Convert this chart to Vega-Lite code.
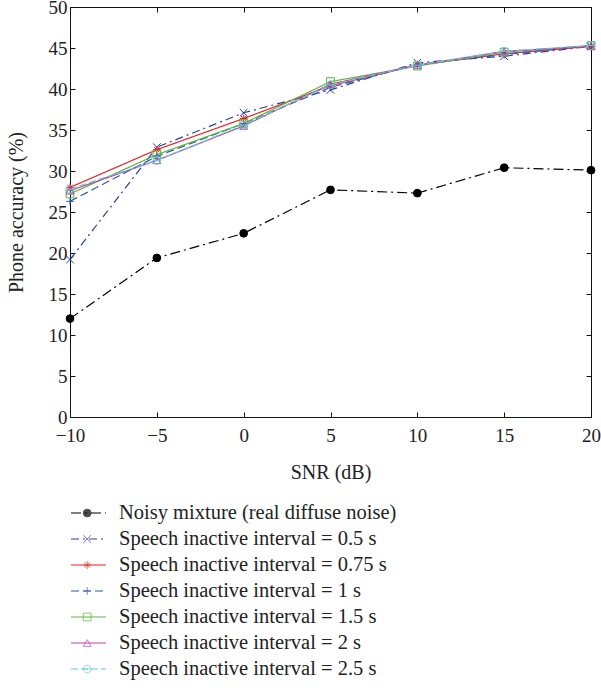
{
  "$schema": "https://vega.github.io/schema/vega-lite/v6.json",
  "padding": {"left": 6, "top": -2, "right": 5, "bottom": 0},
  "config": {"font": "Liberation Serif", "view": {"stroke": null},
    "axis": {"labelFont": "Liberation Serif", "titleFont": "Liberation Serif", "labelColor": "#222", "titleColor": "#222", "domainColor": "#111", "tickColor": "#111", "labelFontSize": 19, "titleFontSize": 20, "titleFontWeight": "normal", "grid": false}},
  "datasets": {
    "acc": [
      {"snr": -10, "acc": 12.0, "series": "Noisy mixture (real diffuse noise)"},
      {"snr": -5, "acc": 19.4, "series": "Noisy mixture (real diffuse noise)"},
      {"snr": 0, "acc": 22.4, "series": "Noisy mixture (real diffuse noise)"},
      {"snr": 5, "acc": 27.7, "series": "Noisy mixture (real diffuse noise)"},
      {"snr": 10, "acc": 27.3, "series": "Noisy mixture (real diffuse noise)"},
      {"snr": 15, "acc": 30.4, "series": "Noisy mixture (real diffuse noise)"},
      {"snr": 20, "acc": 30.1, "series": "Noisy mixture (real diffuse noise)"},
      {"snr": -10, "acc": 19.2, "series": "Speech inactive interval = 0.5 s"},
      {"snr": -5, "acc": 32.9, "series": "Speech inactive interval = 0.5 s"},
      {"snr": 0, "acc": 37.1, "series": "Speech inactive interval = 0.5 s"},
      {"snr": 5, "acc": 39.9, "series": "Speech inactive interval = 0.5 s"},
      {"snr": 10, "acc": 43.2, "series": "Speech inactive interval = 0.5 s"},
      {"snr": 15, "acc": 44.0, "series": "Speech inactive interval = 0.5 s"},
      {"snr": 20, "acc": 45.2, "series": "Speech inactive interval = 0.5 s"},
      {"snr": -10, "acc": 28.0, "series": "Speech inactive interval = 0.75 s"},
      {"snr": -5, "acc": 32.6, "series": "Speech inactive interval = 0.75 s"},
      {"snr": 0, "acc": 36.4, "series": "Speech inactive interval = 0.75 s"},
      {"snr": 5, "acc": 40.4, "series": "Speech inactive interval = 0.75 s"},
      {"snr": 10, "acc": 42.9, "series": "Speech inactive interval = 0.75 s"},
      {"snr": 15, "acc": 44.3, "series": "Speech inactive interval = 0.75 s"},
      {"snr": 20, "acc": 45.2, "series": "Speech inactive interval = 0.75 s"},
      {"snr": -10, "acc": 26.3, "series": "Speech inactive interval = 1 s"},
      {"snr": -5, "acc": 31.8, "series": "Speech inactive interval = 1 s"},
      {"snr": 0, "acc": 35.8, "series": "Speech inactive interval = 1 s"},
      {"snr": 5, "acc": 40.2, "series": "Speech inactive interval = 1 s"},
      {"snr": 10, "acc": 43.0, "series": "Speech inactive interval = 1 s"},
      {"snr": 15, "acc": 44.2, "series": "Speech inactive interval = 1 s"},
      {"snr": 20, "acc": 45.3, "series": "Speech inactive interval = 1 s"},
      {"snr": -10, "acc": 27.2, "series": "Speech inactive interval = 1.5 s"},
      {"snr": -5, "acc": 32.0, "series": "Speech inactive interval = 1.5 s"},
      {"snr": 0, "acc": 35.8, "series": "Speech inactive interval = 1.5 s"},
      {"snr": 5, "acc": 40.9, "series": "Speech inactive interval = 1.5 s"},
      {"snr": 10, "acc": 42.8, "series": "Speech inactive interval = 1.5 s"},
      {"snr": 15, "acc": 44.5, "series": "Speech inactive interval = 1.5 s"},
      {"snr": 20, "acc": 45.3, "series": "Speech inactive interval = 1.5 s"},
      {"snr": -10, "acc": 27.6, "series": "Speech inactive interval = 2 s"},
      {"snr": -5, "acc": 31.3, "series": "Speech inactive interval = 2 s"},
      {"snr": 0, "acc": 35.5, "series": "Speech inactive interval = 2 s"},
      {"snr": 5, "acc": 40.6, "series": "Speech inactive interval = 2 s"},
      {"snr": 10, "acc": 42.9, "series": "Speech inactive interval = 2 s"},
      {"snr": 15, "acc": 44.6, "series": "Speech inactive interval = 2 s"},
      {"snr": 20, "acc": 45.2, "series": "Speech inactive interval = 2 s"},
      {"snr": -10, "acc": 27.8, "series": "Speech inactive interval = 2.5 s"},
      {"snr": -5, "acc": 31.3, "series": "Speech inactive interval = 2.5 s"},
      {"snr": 0, "acc": 35.6, "series": "Speech inactive interval = 2.5 s"},
      {"snr": 5, "acc": 40.5, "series": "Speech inactive interval = 2.5 s"},
      {"snr": 10, "acc": 42.9, "series": "Speech inactive interval = 2.5 s"},
      {"snr": 15, "acc": 44.6, "series": "Speech inactive interval = 2.5 s"},
      {"snr": 20, "acc": 45.3, "series": "Speech inactive interval = 2.5 s"}
    ],
    "legend": [
      {"series": "Noisy mixture (real diffuse noise)"},
      {"series": "Speech inactive interval = 0.5 s"},
      {"series": "Speech inactive interval = 0.75 s"},
      {"series": "Speech inactive interval = 1 s"},
      {"series": "Speech inactive interval = 1.5 s"},
      {"series": "Speech inactive interval = 2 s"},
      {"series": "Speech inactive interval = 2.5 s"}
    ]
  },
  "spacing": 18,
  "vconcat": [
    {
      "width": 521,
      "height": 410,
      "data": {"name": "acc"},
      "layer": [
        {
          "mark": {"type": "line", "strokeWidth": 1.2},
          "encoding": {
            "x": {"field": "snr", "type": "quantitative", "scale": {"domain": [-10, 20]}, "axis": {"title": "SNR (dB)", "values": [-10, -5, 0, 5, 10, 15, 20], "tickSize": -5, "labelPadding": 14, "titlePadding": 17, "labelFlush": false}},
            "y": {"field": "acc", "type": "quantitative", "scale": {"domain": [0, 50]}, "axis": {"title": "Phone accuracy (%)", "values": [0, 5, 10, 15, 20, 25, 30, 35, 40, 45, 50], "tickSize": -5, "labelPadding": 8, "titlePadding": 22, "labelFlush": false}},
            "stroke": {"field": "series", "type": "nominal", "legend": null, "scale": {"domain": ["Noisy mixture (real diffuse noise)", "Speech inactive interval = 0.5 s", "Speech inactive interval = 0.75 s", "Speech inactive interval = 1 s", "Speech inactive interval = 1.5 s", "Speech inactive interval = 2 s", "Speech inactive interval = 2.5 s"], "range": ["#000000", "#2b3c9e", "#ee2222", "#3355bb", "#5cb83a", "#bb44aa", "#66c6e0"]}},
            "strokeDash": {"field": "series", "type": "nominal", "legend": null, "scale": {"domain": ["Noisy mixture (real diffuse noise)", "Speech inactive interval = 0.5 s", "Speech inactive interval = 0.75 s", "Speech inactive interval = 1 s", "Speech inactive interval = 1.5 s", "Speech inactive interval = 2 s", "Speech inactive interval = 2.5 s"], "range": [[10, 4, 2, 4], [8, 4, 2, 4], [1, 0], [8, 4], [1, 0], [1, 0], [7, 3]]}}
          }
        },
        {
          "mark": {"type": "point", "filled": true, "size": 60, "strokeWidth": 1, "opacity": 1},
          "encoding": {
            "x": {"field": "snr", "type": "quantitative", "axis": null},
            "y": {"field": "acc", "type": "quantitative", "axis": null},
            "stroke": {"field": "series", "type": "nominal", "legend": null},
            "fill": {"field": "series", "type": "nominal", "legend": null, "scale": {"domain": ["Noisy mixture (real diffuse noise)", "Speech inactive interval = 0.5 s", "Speech inactive interval = 0.75 s", "Speech inactive interval = 1 s", "Speech inactive interval = 1.5 s", "Speech inactive interval = 2 s", "Speech inactive interval = 2.5 s"], "range": ["#000000", "transparent", "transparent", "transparent", "transparent", "transparent", "transparent"]}},
            "shape": {"field": "series", "type": "nominal", "legend": null, "scale": {"domain": ["Noisy mixture (real diffuse noise)", "Speech inactive interval = 0.5 s", "Speech inactive interval = 0.75 s", "Speech inactive interval = 1 s", "Speech inactive interval = 1.5 s", "Speech inactive interval = 2 s", "Speech inactive interval = 2.5 s"], "range": ["circle", "M-1,-1L1,1M-1,1L1,-1", "M0,-1V1M-1,0H1M-0.7,-0.7L0.7,0.7M-0.7,0.7L0.7,-0.7", "M0,-1V1M-1,0H1", "square", "triangle-up", "M-1,0A1,1,0,1,1,1,0A1,1,0,1,1,-1,0ZM-1,0H1"]}}
          }
        },
        {
          "mark": {"type": "point", "opacity": 0},
          "encoding": {
            "x": {"field": "snr", "type": "quantitative", "axis": {"orient": "top", "title": null, "labels": false, "values": [-10, -5, 0, 5, 10, 15, 20], "tickSize": -5}},
            "y": {"field": "acc", "type": "quantitative", "axis": {"orient": "right", "title": null, "labels": false, "values": [0, 5, 10, 15, 20, 25, 30, 35, 40, 45, 50], "tickSize": -5}}
          }
        }
      ],
      "resolve": {"axis": {"x": "independent", "y": "independent"}}
    },
    {
      "width": 521,
      "height": 182,
      "data": {"name": "legend"},
      "encoding": {
        "y": {"field": "series", "type": "nominal", "sort": null, "axis": null, "scale": {"type": "point", "padding": 0.5}}
      },
      "layer": [
        {
          "mark": {"type": "rule", "strokeWidth": 1.2},
          "encoding": {
            "x": {"datum": 0.2, "type": "quantitative", "scale": {"domain": [0, 100]}, "axis": null},
            "x2": {"datum": 6.9},
            "stroke": {"field": "series", "type": "nominal", "legend": null, "scale": {"domain": ["Noisy mixture (real diffuse noise)", "Speech inactive interval = 0.5 s", "Speech inactive interval = 0.75 s", "Speech inactive interval = 1 s", "Speech inactive interval = 1.5 s", "Speech inactive interval = 2 s", "Speech inactive interval = 2.5 s"], "range": ["#000000", "#2b3c9e", "#ee2222", "#3355bb", "#5cb83a", "#bb44aa", "#66c6e0"]}},
            "strokeDash": {"field": "series", "type": "nominal", "legend": null, "scale": {"domain": ["Noisy mixture (real diffuse noise)", "Speech inactive interval = 0.5 s", "Speech inactive interval = 0.75 s", "Speech inactive interval = 1 s", "Speech inactive interval = 1.5 s", "Speech inactive interval = 2 s", "Speech inactive interval = 2.5 s"], "range": [[1, 5, 17, 6, 8, 50], [1, 5, 17, 6, 8, 50], [1, 0], [1, 5, 17, 6, 8, 50], [1, 0], [1, 0], [8, 4, 11, 6, 8, 50]]}}
          }
        },
        {
          "mark": {"type": "point", "filled": true, "size": 60, "strokeWidth": 1},
          "encoding": {
            "x": {"datum": 3.3, "type": "quantitative"},
            "stroke": {"field": "series", "type": "nominal", "legend": null},
            "fill": {"field": "series", "type": "nominal", "legend": null, "scale": {"domain": ["Noisy mixture (real diffuse noise)", "Speech inactive interval = 0.5 s", "Speech inactive interval = 0.75 s", "Speech inactive interval = 1 s", "Speech inactive interval = 1.5 s", "Speech inactive interval = 2 s", "Speech inactive interval = 2.5 s"], "range": ["#000000", "transparent", "transparent", "transparent", "transparent", "transparent", "transparent"]}},
            "shape": {"field": "series", "type": "nominal", "legend": null, "scale": {"domain": ["Noisy mixture (real diffuse noise)", "Speech inactive interval = 0.5 s", "Speech inactive interval = 0.75 s", "Speech inactive interval = 1 s", "Speech inactive interval = 1.5 s", "Speech inactive interval = 2 s", "Speech inactive interval = 2.5 s"], "range": ["circle", "M-1,-1L1,1M-1,1L1,-1", "M0,-1V1M-1,0H1M-0.7,-0.7L0.7,0.7M-0.7,0.7L0.7,-0.7", "M0,-1V1M-1,0H1", "square", "triangle-up", "M-1,0A1,1,0,1,1,1,0A1,1,0,1,1,-1,0ZM-1,0H1"]}}
          }
        },
        {
          "mark": {"type": "text", "align": "left", "baseline": "middle", "fontSize": 20.5, "font": "Liberation Serif", "color": "#222"},
          "encoding": {
            "x": {"datum": 9.4, "type": "quantitative"},
            "text": {"field": "series", "type": "nominal"}
          }
        }
      ]
    }
  ]
}
